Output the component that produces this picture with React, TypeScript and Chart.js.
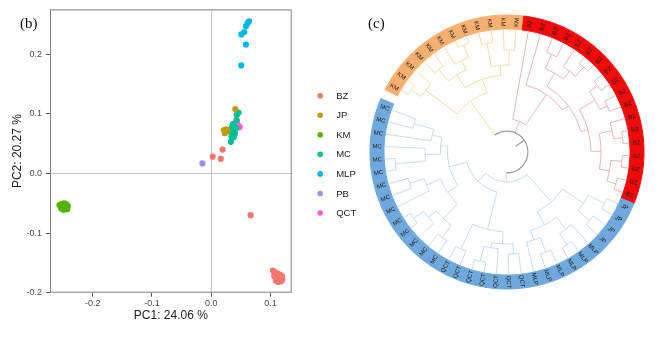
import React, { useEffect, useRef } from 'react';
import { Chart, registerables } from 'chart.js';
Chart.register(...registerables);

// ---------------- PCA scatter data ----------------
const GROUPS = ['BZ', 'JP', 'KM', 'MC', 'MLP', 'PB', 'QCT'];
const GROUP_COLORS = ['#F8766D', '#C49A00', '#53B400', '#00C094', '#00B6EB', '#A58AFF', '#FB61D7'];

const BZ_PTS = [[0.0023, 0.028], [0.016, 0.0245], [0.019, 0.040], [0.0664, -0.070], [0.104, -0.163], [0.108, -0.166], [0.112, -0.168], [0.116, -0.170], [0.119, -0.172], [0.117, -0.176], [0.114, -0.178], [0.110, -0.175], [0.106, -0.172], [0.109, -0.180], [0.113, -0.182], [0.118, -0.181], [0.120, -0.177], [0.111, -0.171]];
const JP_PTS = [[0.0405, 0.108], [0.0214, 0.0725], [0.0248, 0.074], [0.023, 0.0675], [0.0265, 0.071]];
const KM_PTS = [[-0.256, -0.053], [-0.252, -0.051], [-0.248, -0.050], [-0.244, -0.052], [-0.242, -0.055], [-0.245, -0.058], [-0.250, -0.057], [-0.254, -0.056], [-0.247, -0.054], [-0.243, -0.060], [-0.249, -0.061], [-0.253, -0.059]];
const MC_PTS = [[0.046, 0.102], [0.043, 0.098], [0.043, 0.089], [0.035, 0.078], [0.038, 0.073], [0.033, 0.071], [0.037, 0.066], [0.040, 0.067], [0.034, 0.0625], [0.038, 0.061], [0.033, 0.053], [0.042, 0.076], [0.0325, 0.074], [0.0366, 0.0826]];
const MLP_PTS = [[0.0636, 0.255], [0.0614, 0.252], [0.0585, 0.247], [0.0557, 0.237], [0.0506, 0.233], [0.0585, 0.216], [0.0506, 0.181]];
const PB_PTS = [[-0.015, 0.0167]];
const QCT_PTS = [[0.0417, 0.0876], [0.0434, 0.084], [0.045, 0.081], [0.0467, 0.0776], [0.048, 0.078], [0.0434, 0.079], [0.0425, 0.0826]];
const GROUP_POINTS = [BZ_PTS, JP_PTS, KM_PTS, MC_PTS, MLP_PTS, PB_PTS, QCT_PTS];

const X_RANGE = [-0.272, 0.1356];
const Y_RANGE = [-0.2, 0.275];
const X_TICKS = [-0.2, -0.1, 0, 0.1];
const X_TICK_LABELS = ['-0.2', '-0.1', '0.0', '0.1'];
const Y_TICKS = [-0.2, -0.1, 0, 0.1, 0.2];
const Y_TICK_LABELS = ['-0.2', '-0.1', '0.0', '0.1', '0.2'];
const X_TITLE = 'PC1: 24.06 %';
const Y_TITLE = 'PC2: 20.27 %';

// ---------------- Dendrogram data ----------------
// internal node: [mergeHeight (0 = tips, 1 = root), ...children]; tip: label
const KM_TREE: any = [0.59, [0.2, [0.08, 'KM', 'KM'], 'KM'], [0.45, [0.3, [0.15, 'KM', 'KM'], [0.2, 'KM', [0.07, 'KM', 'KM']]], [0.35, [0.12, 'KM', 'KM'], [0.2, 'KM', 'KM']]]];
const BZ_TREE: any = [0.88, 'BZ', [0.52, 'BZ', [0.45, [0.3, [0.15, 'BZ', 'BZ'], [0.2, 'BZ', [0.08, 'BZ', 'BZ']]], [0.38, [0.2, [0.1, 'BZ', 'BZ'], [0.12, 'BZ', 'BZ']], [0.28, [0.15, 'BZ', [0.06, 'BZ', 'BZ']], [0.18, [0.07, 'BZ', 'BZ'], [0.09, 'BZ', 'BZ']]]]]]];
const BLUE_TREE: any = [0.91,
  [0.55, [0.3, [0.12, 'JP', 'JP'], [0.15, 'JP', 'JP']], [0.4, [0.25, 'MLP', [0.12, 'MLP', 'MLP']], [0.3, [0.15, 'MLP', 'MLP'], 'MLP']]],
  [0.8,
    [0.42, [0.3, [0.2, 'QCT', 'QCT'], [0.25, 'QCT', [0.1, 'QCT', 'QCT']]], [0.15, 'QCT', 'QCT']],
    [0.62, [0.5, [0.3, [0.15, 'MC', 'MC'], [0.2, 'MC', [0.08, 'MC', 'MC']]], [0.35, 'MC', [0.2, 'MC', 'MC']]], [0.55, [0.4, [0.1, 'MC', 'MC'], 'MC'], [0.45, 'MC', [0.25, 'MC', 'MC']]]]]];
const CLADES = [KM_TREE, BZ_TREE, BLUE_TREE];
const CLADE_RING_COLORS = ['#F5B070', '#F20A0A', '#6FA8DC'];
const CLADE_BRANCH_COLORS = ['#EEDFA4', '#E6B7B7', '#C7DAEB'];
const ROOT_COLOR = '#9a9a9a';
const GAP_WEIGHT = 0.71;

function tips(node: any): string[] {
  if (typeof node === 'string') return [node];
  return node.slice(1).flatMap(tips);
}
const CLADE_TIPS = CLADES.map(tips);
const LEAF_LABELS = CLADE_TIPS.flat();
const LEAF_COLORS = CLADE_TIPS.flatMap((t, i) => t.map(() => CLADE_RING_COLORS[i]));

const SANS = '"Liberation Sans", Arial, Helvetica, sans-serif';
const SERIF = '"Liberation Serif", "Times New Roman", serif';

// ---------------- Scatter panel ----------------
function ScatterPanel() {
  const ref = useRef<HTMLCanvasElement>(null);
  useEffect(() => {
    const panelPlugin = {
      id: 'panelDeco',
      beforeDatasetsDraw(chart: any) {
        const { ctx, chartArea: a } = chart;
        ctx.save();
        ctx.strokeStyle = '#7f7f7f';
        ctx.lineWidth = 1;
        ctx.strokeRect(a.left + 0.5, a.top + 0.5, a.right - a.left - 1, a.bottom - a.top - 1);
        ctx.restore();
      },
      afterDraw(chart: any) {
        const { ctx, chartArea: a } = chart;
        ctx.save();
        ctx.fillStyle = '#111';
        ctx.font = `15px ${SERIF}`;
        ctx.textBaseline = 'alphabetic';
        ctx.textAlign = 'left';
        ctx.fillText('(b)', 20, 28);
        // legend
        ctx.font = `9.5px ${SANS}`;
        ctx.textBaseline = 'middle';
        GROUPS.forEach((g, i) => {
          const y = 95.7 + i * 19.55;
          const x = a.right + 28.5;
          ctx.fillStyle = GROUP_COLORS[i];
          ctx.beginPath();
          ctx.arc(x, y, 2.8, 0, Math.PI * 2);
          ctx.fill();
          ctx.fillStyle = '#222';
          ctx.fillText(g, x + 16, y + 0.5);
        });
        ctx.restore();
      },
    };
    const chart = new Chart(ref.current!, {
      type: 'scatter',
      data: {
        datasets: GROUPS.map((g, i) => ({
          label: g,
          data: GROUP_POINTS[i].map(([x, y]) => ({ x, y })),
          backgroundColor: GROUP_COLORS[i],
          borderWidth: 0,
          pointRadius: 3.1,
          pointBorderWidth: 0,
        })),
      },
      options: {
        responsive: false,
        animation: false,
        events: [],
        layout: { padding: { left: 10, top: 9.3, right: 73.3, bottom: 36.8 } },
        plugins: { legend: { display: false }, tooltip: { enabled: false } },
        scales: {
          x: {
            type: 'linear',
            min: X_RANGE[0],
            max: X_RANGE[1],
            afterBuildTicks: (s: any) => { s.ticks = X_TICKS.map((v) => ({ value: v })); },
            afterFit: (s: any) => { s.height = 30.5; },
            ticks: { color: '#4d4d4d', font: { family: SANS, size: 9 }, padding: 1.5, maxRotation: 0, callback: (_v: any, i: number) => X_TICK_LABELS[i] },
            grid: {
              color: (c: any) => (c.tick && c.tick.value === 0 ? '#c4c4c4' : 'rgba(0,0,0,0)'),
              tickColor: '#555',
              tickLength: 4,
              lineWidth: 1,
            },
            border: { display: false },
            title: { display: true, text: X_TITLE, color: '#222', font: { family: SANS, size: 12 }, padding: 0 },
          },
          y: {
            type: 'linear',
            min: Y_RANGE[0],
            max: Y_RANGE[1],
            afterBuildTicks: (s: any) => { s.ticks = Y_TICKS.map((v) => ({ value: v })); },
            afterFit: (s: any) => { s.width = 40; },
            ticks: { color: '#4d4d4d', font: { family: SANS, size: 9 }, padding: 4, callback: (_v: any, i: number) => Y_TICK_LABELS[i] },
            grid: {
              color: (c: any) => (c.tick && c.tick.value === 0 ? '#c4c4c4' : 'rgba(0,0,0,0)'),
              tickColor: '#555',
              tickLength: 4,
              lineWidth: 1,
            },
            border: { display: false },
            title: { display: true, text: Y_TITLE, color: '#222', font: { family: SANS, size: 12 }, padding: 0 },
          },
        },
      } as any,
      plugins: [panelPlugin],
    });
    return () => chart.destroy();
  }, []);
  return <canvas ref={ref} width={365} height={360} style={{ position: 'absolute', left: 0, top: 0, width: 365, height: 360 }} />;
}

// ---------------- Dendrogram panel ----------------
type LNode = { angle: number; r: number; kids: LNode[] };

function DendroPanel() {
  const ref = useRef<HTMLCanvasElement>(null);
  useEffect(() => {
    const treePlugin = {
      id: 'circularTree',
      afterDatasetsDraw(chart: any) {
        const { ctx } = chart;
        const arcs = chart.getDatasetMeta(0).data.map((el: any) =>
          el.getProps(['x', 'y', 'startAngle', 'endAngle', 'innerRadius', 'outerRadius'], true));
        const { x: cx, y: cy, innerRadius: rIn, outerRadius: rOut } = arcs[0];
        const rLeaf = rIn - 0.5;
        const rRoot = rIn * 0.17;
        const rad = (h: number) => rLeaf - h * (rLeaf - rRoot);
        const counter = { i: 0 };
        const build = (node: any): LNode => {
          if (typeof node === 'string') {
            const a = arcs[counter.i++];
            return { angle: (a.startAngle + a.endAngle) / 2, r: rLeaf, kids: [] };
          }
          const kids = node.slice(1).map(build);
          const angle = kids.reduce((s: number, k: LNode) => s + k.angle, 0) / kids.length;
          return { angle, r: rad(node[0]), kids };
        };
        const cladeNodes = CLADES.map(build);
        const root: LNode = { angle: cladeNodes.reduce((s, k) => s + k.angle, 0) / cladeNodes.length, r: rRoot, kids: cladeNodes };

        ctx.save();
        ctx.lineWidth = 1;
        ctx.lineCap = 'butt';
        const drawNode = (n: LNode, color: string) => {
          if (!n.kids.length) return;
          const angs = n.kids.map((k) => k.angle);
          ctx.strokeStyle = color;
          ctx.beginPath();
          ctx.arc(cx, cy, n.r, Math.min(...angs), Math.max(...angs), false);
          ctx.stroke();
          n.kids.forEach((k) => {
            ctx.strokeStyle = color;
            ctx.beginPath();
            ctx.moveTo(cx + n.r * Math.cos(k.angle), cy + n.r * Math.sin(k.angle));
            ctx.lineTo(cx + k.r * Math.cos(k.angle), cy + k.r * Math.sin(k.angle));
            ctx.stroke();
            drawNode(k, color);
          });
        };
        // root connections
        cladeNodes.forEach((k, i) => {
          ctx.strokeStyle = CLADE_BRANCH_COLORS[i];
          ctx.beginPath();
          ctx.moveTo(cx + rRoot * Math.cos(k.angle), cy + rRoot * Math.sin(k.angle));
          ctx.lineTo(cx + k.r * Math.cos(k.angle), cy + k.r * Math.sin(k.angle));
          ctx.stroke();
          drawNode(k, CLADE_BRANCH_COLORS[i]);
        });
        const rootAngs = cladeNodes.map((k) => k.angle);
        ctx.strokeStyle = ROOT_COLOR;
        ctx.lineWidth = 1.2;
        ctx.beginPath();
        ctx.arc(cx, cy, rRoot, Math.min(...rootAngs), Math.max(...rootAngs), false);
        ctx.stroke();
        ctx.beginPath();
        ctx.moveTo(cx + rRoot * 0.5 * Math.cos(root.angle), cy + rRoot * 0.5 * Math.sin(root.angle));
        ctx.lineTo(cx + rRoot * Math.cos(root.angle), cy + rRoot * Math.sin(root.angle));
        ctx.stroke();

        // tip labels
        ctx.fillStyle = '#1b1b1b';
        ctx.font = `6px ${SANS}`;
        ctx.textAlign = 'center';
        ctx.textBaseline = 'middle';
        const rLab = (rIn + rOut) / 2;
        LEAF_LABELS.forEach((lab, i) => {
          const a = arcs[i];
          const ang = (a.startAngle + a.endAngle) / 2;
          const norm = ((ang % (2 * Math.PI)) + 2 * Math.PI) % (2 * Math.PI);
          const flip = norm > Math.PI / 2 && norm < (3 * Math.PI) / 2;
          ctx.save();
          ctx.translate(cx + rLab * Math.cos(ang), cy + rLab * Math.sin(ang));
          ctx.rotate(flip ? ang + Math.PI : ang);
          ctx.fillText(lab, 0, 0.3);
          ctx.restore();
        });

        ctx.fillStyle = '#111';
        ctx.font = `15px ${SERIF}`;
        ctx.textAlign = 'left';
        ctx.textBaseline = 'alphabetic';
        ctx.fillText('(c)', 8, 28);
        ctx.restore();
      },
    };
    const colors = LEAF_COLORS.concat(['rgba(0,0,0,0)']);
    const chart = new Chart(ref.current!, {
      type: 'doughnut',
      data: {
        labels: LEAF_LABELS.concat(['']),
        datasets: [{
          data: LEAF_LABELS.map(() => 1).concat([GAP_WEIGHT]),
          backgroundColor: colors,
          borderColor: colors,
          borderWidth: 1,
        }],
      },
      options: {
        responsive: false,
        animation: false,
        events: [],
        rotation: -62.9,
        circumference: 360,
        cutout: 123,
        layout: { padding: { left: 9.5, top: 14.5, right: 22.5, bottom: 70.5 } },
        plugins: { legend: { display: false }, tooltip: { enabled: false } },
      } as any,
      plugins: [treePlugin],
    });
    return () => chart.destroy();
  }, []);
  return <canvas ref={ref} width={307} height={360} style={{ position: 'absolute', left: 360, top: 0, width: 307, height: 360 }} />;
}

export default function App() {
  return (
    <div style={{ position: 'fixed', left: 0, top: 0, width: 667, height: 360, background: '#fff', overflow: 'hidden' }}>
      <ScatterPanel />
      <DendroPanel />
    </div>
  );
}
